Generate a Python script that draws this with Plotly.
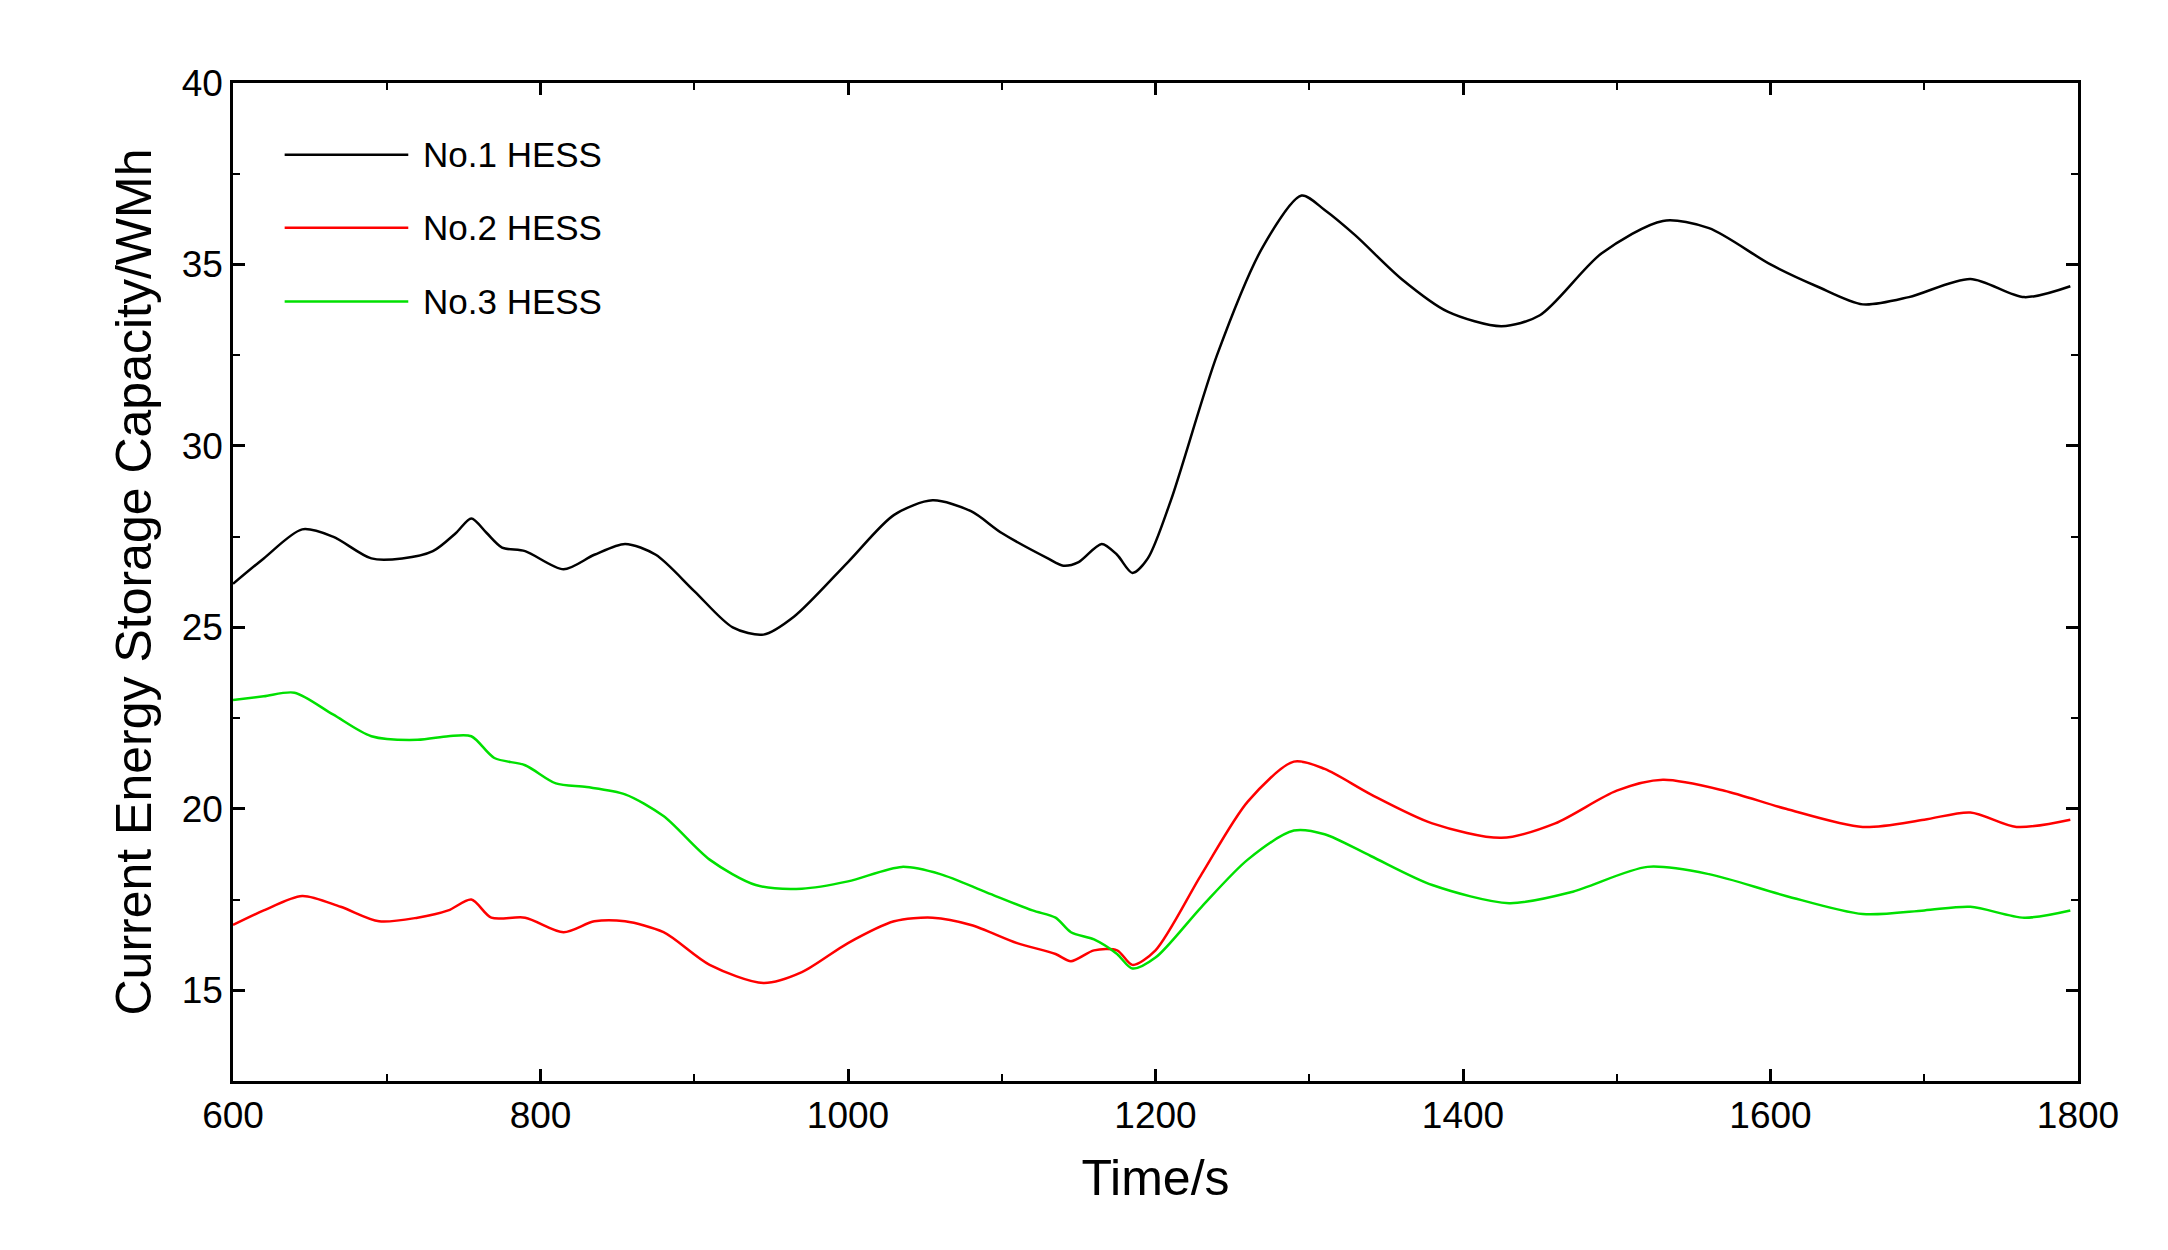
import plotly.graph_objects as go

x1 = [600,620,645,665,690,710,730,745,755,765,775,790,815,835,855,875,900,925,945,965,1000,1030,1055,1080,1100,1130,1140,1150,1165,1175,1185,1195,1210,1240,1270,1295,1310,1330,1360,1390,1425,1450,1490,1530,1560,1600,1630,1660,1690,1730,1765,1795]
y1 = [26.2,26.9,27.7,27.5,26.9,26.9,27.1,27.6,28.0,27.6,27.2,27.1,26.6,27.0,27.3,27.0,26.0,25.0,24.8,25.3,26.8,28.1,28.5,28.2,27.6,26.9,26.7,26.8,27.3,27.0,26.5,26.9,28.5,32.5,35.5,36.9,36.5,35.8,34.6,33.7,33.3,33.6,35.3,36.2,36.0,35.0,34.4,33.9,34.1,34.6,34.1,34.4]
x2 = [600,620,645,670,695,720,740,755,768,790,815,835,855,880,910,945,970,1000,1030,1055,1080,1110,1135,1145,1160,1175,1185,1200,1230,1260,1290,1310,1340,1380,1425,1460,1500,1530,1570,1610,1660,1700,1730,1760,1795]
y2 = [16.8,17.2,17.6,17.3,16.9,17.0,17.2,17.5,17.0,17.0,16.6,16.9,16.9,16.6,15.7,15.2,15.5,16.3,16.9,17.0,16.8,16.3,16.0,15.8,16.1,16.1,15.7,16.1,18.2,20.2,21.3,21.1,20.4,19.6,19.2,19.6,20.5,20.8,20.5,20.0,19.5,19.7,19.9,19.5,19.7]
x3 = [600,620,640,665,690,720,740,755,770,790,810,830,855,880,910,940,970,1000,1035,1060,1090,1120,1135,1145,1160,1175,1185,1200,1230,1260,1290,1310,1340,1380,1430,1470,1520,1560,1610,1660,1700,1730,1765,1795]
y3 = [23.0,23.1,23.2,22.6,22.0,21.9,22.0,22.0,21.4,21.2,20.7,20.6,20.4,19.8,18.6,17.9,17.8,18.0,18.4,18.2,17.7,17.2,17.0,16.6,16.4,16.0,15.6,15.9,17.3,18.6,19.4,19.3,18.7,17.9,17.4,17.7,18.4,18.2,17.6,17.1,17.2,17.3,17.0,17.2]
names = ["No.1 HESS", "No.2 HESS", "No.3 HESS"]
colors = ["#000000", "#ff0000", "#00e000"]
xticks = [600, 800, 1000, 1200, 1400, 1600, 1800]
yticks = [15, 20, 25, 30, 35, 40]

fig = go.Figure()
for xs, ys, n, c in zip([x1, x2, x3], [y1, y2, y3], names, colors):
    fig.add_trace(go.Scatter(x=xs, y=ys, name=n, mode="lines",
                             line=dict(color=c, width=2.5, shape="spline", smoothing=0.8),
                             showlegend=False))

ly = [0.928, 0.855, 0.781]
for n, c, yy in zip(names, colors, ly):
    fig.add_shape(type="line", xref="paper", yref="paper", x0=0.028, x1=0.095, y0=yy, y1=yy,
                  line=dict(color=c, width=2.5))
    fig.add_annotation(xref="paper", yref="paper", x=0.102, y=yy, text=n, showarrow=False,
                       xanchor="left", yanchor="middle", font=dict(size=35, color="black"))

ax = dict(showline=True, linecolor="black", linewidth=2.5, mirror="ticks", ticks="inside",
          ticklen=12, tickwidth=2.5, tickcolor="black", showgrid=False, zeroline=False,
          tickfont=dict(size=37, color="black"))
fig.update_xaxes(range=[600, 1800], tickvals=xticks, title=dict(text="Time/s", font=dict(size=50), standoff=25),
                 minor=dict(dtick=100, ticks="inside", ticklen=7, tickwidth=2, tickcolor="black"), **ax)
fig.update_yaxes(range=[12.5, 40], tickvals=yticks, title=dict(text="Current Energy Storage Capacity/WMh", font=dict(size=50), standoff=15),
                 minor=dict(dtick=2.5, ticks="inside", ticklen=7, tickwidth=2, tickcolor="black"), **ax)
fig.update_layout(width=2168, height=1250, plot_bgcolor="white", paper_bgcolor="white",
                  font=dict(family="Liberation Sans, Arial", color="black"),
                  margin=dict(l=225, r=98, t=75, b=177))
fig.write_html("out.html")
